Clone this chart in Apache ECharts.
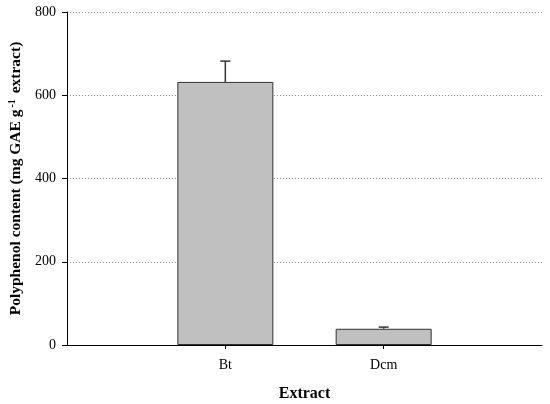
<!DOCTYPE html>
<html><head><meta charset="utf-8">
<script src="https://cdn.jsdelivr.net/npm/echarts@6/dist/echarts.min.js"></script>
<style>html,body{margin:0;padding:0;background:#fff}#c{width:550px;height:404px}</style>
</head><body><div id="c"></div>
<script>
var categories = ['', 'Bt', 'Dcm', ''];
var means = [null, 632, 39, null];
var errors = [null, 50, 4, null];
var yTicks = [0, 200, 400, 600, 800];

var chart = echarts.init(document.getElementById('c'));
var errData = [];
for (var i = 0; i < categories.length; i++) {
  if (means[i] != null) errData.push([i, means[i], means[i] + errors[i]]);
}
var font = '"Liberation Serif", "Times New Roman", serif';
chart.setOption({
  animation: false,
  grid: {left: 67, right: 8, top: 12, bottom: 59, containLabel: false, outerBoundsMode: 'none'},
  xAxis: {
    type: 'category', data: categories, boundaryGap: false,
    axisLine: {lineStyle: {color: '#000', width: 1}},
    axisTick: {length: 4, lineStyle: {color: '#000'}, interval: function (idx) { return idx === 1 || idx === 2; }},
    axisLabel: {interval: 0, color: '#000', fontFamily: font, fontSize: 14, margin: 13},
    splitLine: {show: false},
    name: 'Extract', nameLocation: 'middle', nameGap: 41,
    nameTextStyle: {fontFamily: font, fontSize: 16, fontWeight: 'bold', color: '#000'}
  },
  yAxis: {
    type: 'value', min: yTicks[0], max: yTicks[yTicks.length - 1], interval: 200,
    axisLine: {show: true, lineStyle: {color: '#000', width: 1}},
    axisTick: {show: true, length: 5, lineStyle: {color: '#000'}},
    axisLabel: {color: '#000', fontFamily: font, fontSize: 14, margin: 11},
    splitLine: {show: true, lineStyle: {color: '#888', type: [1, 2], width: 1}},
    name: '{a|Polyphenol content (mg GAE g}{sup|-1}{a| extract)}',
    nameLocation: 'middle', nameGap: 40, nameRotate: 90,
    nameTextStyle: {
      rich: {
        a: {fontFamily: font, fontSize: 15.5, fontWeight: 'bold', color: '#000'},
        sup: {fontFamily: font, fontSize: 10, fontWeight: 'bold', color: '#000', verticalAlign: 'top', padding: [0, 2, 8, 2]}
      }
    }
  },
  series: [{
    type: 'bar', data: means, barWidth: 96,
    itemStyle: {color: '#c0c0c0', borderColor: '#333', borderWidth: 1}
  }, {
    type: 'custom', data: errData, z: 1,
    renderItem: function (params, api) {
      var x = api.value(0);
      var base = api.coord([x, api.value(1)]);
      var top = api.coord([x, api.value(2)]);
      var hw = 5;
      return {type: 'group', children: [
        {type: 'line', shape: {x1: base[0], y1: base[1], x2: top[0], y2: top[1]}, style: {stroke: '#333', lineWidth: 1.5}},
        {type: 'line', shape: {x1: top[0] - hw, y1: top[1], x2: top[0] + hw, y2: top[1]}, style: {stroke: '#333', lineWidth: 1.5}}
      ]};
    }
  }]
});
</script></body></html>
